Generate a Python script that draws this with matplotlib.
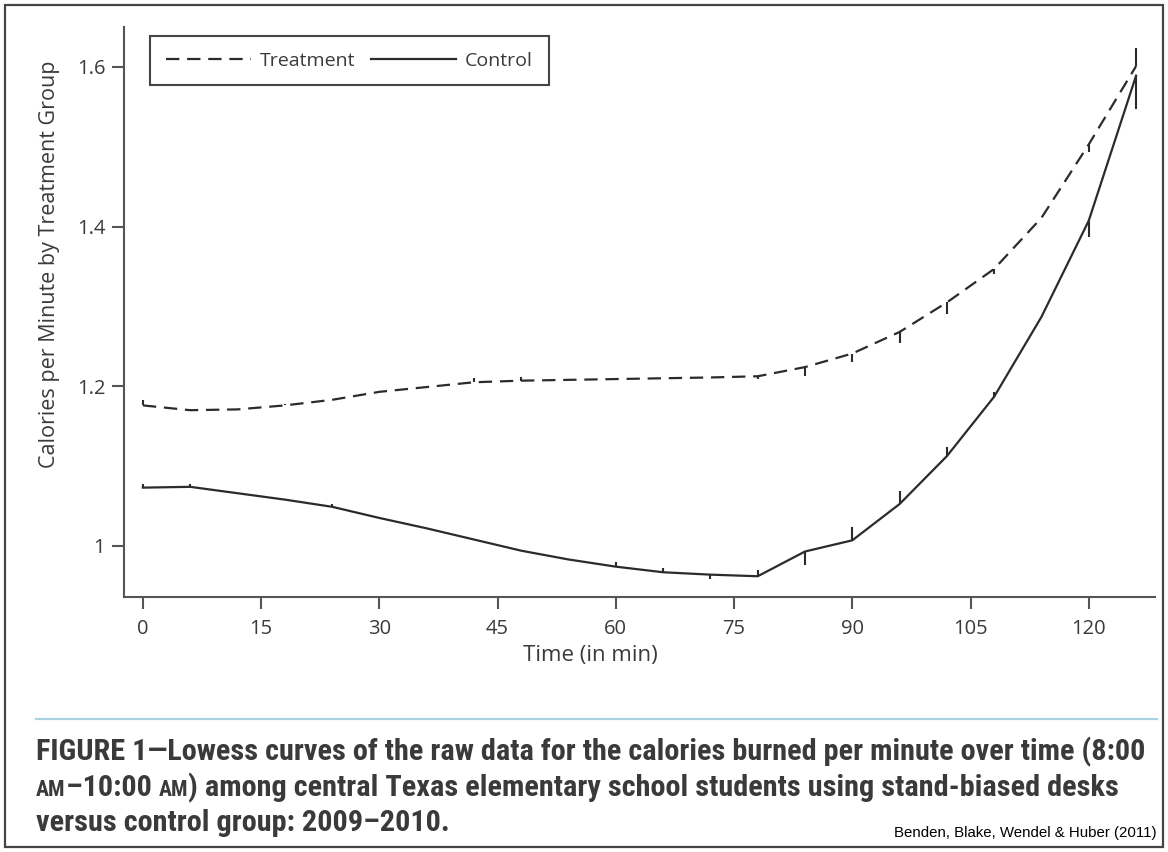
import matplotlib
matplotlib.use('Agg')
import matplotlib.pyplot as plt
from matplotlib.lines import Line2D
from matplotlib.patches import Rectangle
from matplotlib import font_manager

# data (lowess curves, one point every 6 min)
time_min = [0, 6, 12, 18, 24, 30, 36, 42, 48, 54, 60, 66, 72, 78, 84, 90, 96, 102, 108, 114, 120, 126]
treatment = [1.176, 1.170, 1.171, 1.176, 1.183, 1.193, 1.199, 1.205, 1.207, 1.208, 1.209, 1.210,
             1.211, 1.2125, 1.224, 1.241, 1.268, 1.305, 1.347, 1.411, 1.503, 1.601]
control = [1.073, 1.074, 1.066, 1.058, 1.049, 1.035, 1.022, 1.008, 0.994, 0.983, 0.974, 0.967,
           0.964, 0.962, 0.993, 1.007, 1.0525, 1.1125, 1.187, 1.287, 1.4075, 1.589]
# small vertical marks at each point (offset from the curve)
treatment_tick = [0.007, 0.002, 0.0, 0.002, 0.0, 0.0, 0.0, 0.005, 0.004, 0.0, 0.0, 0.0,
                  0.0, -0.004, -0.011, -0.011, -0.014, -0.014, -0.006, 0.0, -0.010, 0.023]
control_tick = [0.005, 0.003, 0.0, 0.0, 0.003, 0.0, 0.0, 0.0, 0.0, 0.0, 0.006, 0.005,
                -0.005, 0.008, -0.017, 0.017, 0.016, 0.012, 0.006, 0.0, -0.020, -0.042]

x_ticks = [0, 15, 30, 45, 60, 75, 90, 105, 120]
y_ticks = [1.0, 1.2, 1.4, 1.6]
y_tick_labels = ['1', '1.2', '1.4', '1.6']

caption_1 = "FIGURE 1\u2014Lowess curves of the raw data for the calories burned per minute over time (8:00"
caption_2 = [("AM", True), ("\u201310:00 ", False), ("AM", True),
             (") among central Texas elementary school students using stand-biased desks", False)]
caption_3 = "versus control group: 2009\u20132010."
citation = "Benden, Blake, Wendel & Huber (2011)"

W, H = 1168, 852
ink = '#2b2b2b'
txt = '#3a3a3a'
plt.rcParams['font.family'] = ['Open Sans', 'DejaVu Sans']

fig = plt.figure(figsize=(W / 100, H / 100), dpi=100)
ax = fig.add_axes([124 / W, 1 - 597 / H, (1155 - 124) / W, (597 - 27) / H])

ax.plot(time_min, treatment, color=ink, lw=1.6, linestyle=(0, (6, 3.5)), label='Treatment')
ax.plot(time_min, control, color=ink, lw=1.6, linestyle='-', label='Control')
ax.vlines(time_min, treatment, [v + d for v, d in zip(treatment, treatment_tick)], color=ink, lw=1.5)
ax.vlines(time_min, control, [v + d for v, d in zip(control, control_tick)], color=ink, lw=1.5)

ax.set_xlim(-2.4, 128.4)
ax.set_ylim(0.936, 1.65)
ax.set_xticks(x_ticks)
ax.set_yticks(y_ticks)
ax.set_yticklabels(y_tick_labels)
for s in ['top', 'right']:
    ax.spines[s].set_visible(False)
for s in ['left', 'bottom']:
    ax.spines[s].set_color('#555555')
    ax.spines[s].set_linewidth(1.5)
ax.tick_params(length=8.5, width=1.5, color='#555555', labelsize=14.5, labelcolor=txt)
ax.tick_params(axis='x', pad=7)
ax.tick_params(axis='y', pad=5)

leg = ax.legend(ncol=2, loc='upper left', bbox_to_anchor=(150 / W, 1 - 36 / H),
                bbox_transform=fig.transFigure, borderaxespad=0, fontsize=14,
                handlelength=4.4, handletextpad=0.45, columnspacing=0.8,
                borderpad=0.8, fancybox=False, framealpha=1)
leg.get_frame().set_edgecolor('#444444')
leg.get_frame().set_linewidth(1.5)
for t in leg.get_texts():
    t.set_color(txt)

fig.text(50 / W, 1 - 264 / H, 'Calories per Minute by Treatment Group', rotation=90,
         ha='center', va='center', fontsize=15.5, color=txt)
fig.text(590 / W, 1 - 656 / H, 'Time (in min)', ha='center', va='center', fontsize=16, color=txt)

# caption block
fig.add_artist(Line2D([36 / W, 1157 / W], [1 - 719 / H, 1 - 719 / H], color='#a9d2e2', lw=1.6))
fig.add_artist(Rectangle((5 / W, 5 / H), 1158 / W, 842 / H, fill=False, ec='#444444', lw=1.6))

names = {f.name for f in font_manager.fontManager.ttflist}
cap_kw = dict(family='DejaVu Sans', fontstretch='condensed')
for n in ['Roboto Condensed', 'Liberation Sans Narrow']:
    if n in names:
        cap_kw = dict(family=n)
        break

r = fig.canvas.get_renderer()
t1 = fig.text(36 / W, 1 - 760 / H, caption_1, fontsize=17, weight='bold', color=txt, **cap_kw)
w1 = t1.get_window_extent(r).width
fs = 17 * 1108 / w1
t1.set_fontsize(fs)

x = 36
for s, small in caption_2:
    t = fig.text(x / W, 1 - 796 / H, s, fontsize=fs * (0.72 if small else 1), weight='bold',
                 color=txt, **cap_kw)
    x += t.get_window_extent(r).width
fig.text(36 / W, 1 - 831 / H, caption_3, fontsize=fs, weight='bold', color=txt, **cap_kw)

fig.text(1157 / W, 1 - 837 / H, citation, ha='right', fontsize=10.8, color='black',
         family=['Liberation Sans', 'DejaVu Sans'])

fig.savefig('out.png', dpi=100)
